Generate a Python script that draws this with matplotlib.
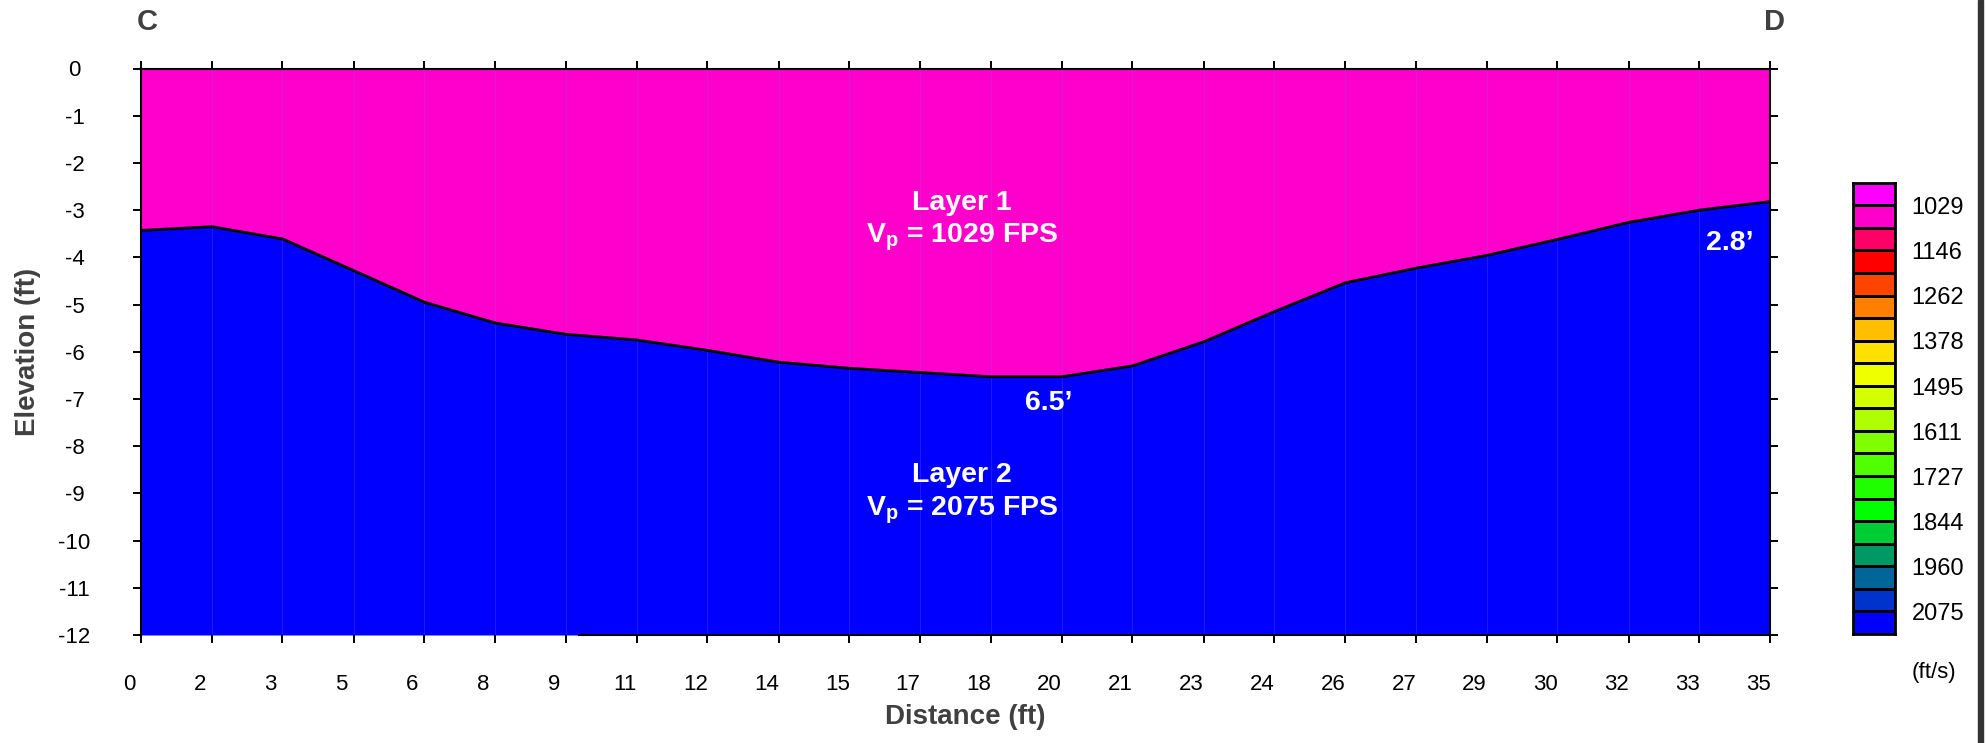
import numpy as np
import matplotlib
matplotlib.use('Agg')
import matplotlib.pyplot as plt
from matplotlib.colors import ListedColormap, BoundaryNorm
from matplotlib.transforms import ScaledTranslation
from matplotlib.patches import Rectangle

plt.rcParams['font.family'] = ['Liberation Sans', 'DejaVu Sans']
plt.rcParams['mathtext.fontset'] = 'custom'
plt.rcParams['mathtext.rm'] = 'Liberation Sans'
plt.rcParams['mathtext.bf'] = 'Liberation Sans:bold'

# geophone stations (ft) and elevation of the layer 1 / layer 2 interface (ft)
distance = [0.0, 1.52, 3.04, 4.57, 6.09, 7.61, 9.13, 10.65, 12.17, 13.70, 15.22, 16.74,
            18.26, 19.78, 21.30, 22.83, 24.35, 25.87, 27.39, 28.91, 30.43, 31.96, 33.48, 35.0]
interface = [-3.43, -3.35, -3.61, -4.28, -4.95, -5.39, -5.63, -5.75, -5.97, -6.22, -6.35, -6.44,
             -6.53, -6.53, -6.30, -5.79, -5.15, -4.54, -4.23, -3.96, -3.62, -3.26, -3.00, -2.82]
x_labels = ['0', '2', '3', '5', '6', '8', '9', '11', '12', '14', '15', '17',
            '18', '20', '21', '23', '24', '26', '27', '29', '30', '32', '33', '35']
y_ticks = [0, -1, -2, -3, -4, -5, -6, -7, -8, -9, -10, -11, -12]

layer_vel = [1029, 2075]
layer_names = ['Layer 1', 'Layer 2']

# velocity scale (ft/s)
cbar_colors = ['#FF00FF', '#FF00CC', '#FF0066', '#FF0000', '#FF4400', '#FF8000', '#FFBF00',
               '#FFE000', '#F0FF00', '#D4FF00', '#B0FF00', '#80FF00', '#50FF00', '#20FF00',
               '#00FF00', '#00CC33', '#009966', '#006699', '#0033CC', '#0000FF']
cbar_ticks = [1029, 1146, 1262, 1378, 1495, 1611, 1727, 1844, 1960, 2075]
cbar_labels = ['1029', '1146', '1262', '1378', '1495', '1611', '1727', '1844', '1960', '2075']

step = (cbar_ticks[-1] - cbar_ticks[0]) / 18.0
bounds = np.round(cbar_ticks[0] + step * np.arange(-1, 20), 6)
cmap = ListedColormap(cbar_colors)
norm = BoundaryNorm(bounds, cmap.N)

W, H = 1986, 743
fig = plt.figure(figsize=(W / 100, H / 100), dpi=100)
ax = fig.add_axes([141 / W, 1 - 635 / H, 1629 / W, 566.5 / H])

top_col = cmap(norm(layer_vel[0]))
bot_col = cmap(norm(layer_vel[1]))
ax.fill_between(distance, interface, 0, color=top_col, lw=0)
ax.fill_between(distance, -12, interface, color=bot_col, lw=0)
ax.vlines(distance[1:-1], -12, 0, color='#8060E0', alpha=0.25, lw=0.8)
ax.plot(distance, interface, color='k', lw=2)

ax.set_xlim(0, 35)
ax.set_ylim(-12, 0)
ax.set_xticks(distance)
ax.set_xticklabels(x_labels)
ax.set_yticks(y_ticks)
ax.set_yticklabels([str(v) for v in y_ticks])
ax.tick_params(direction='out', length=5.8, width=1.4, top=True, right=True,
               labelsize=16, colors='k')
ax.tick_params(axis='x', pad=22)
ax.tick_params(axis='y', pad=42)
for lab in ax.get_yticklabels():
    lab.set_ha('center')
off = ScaledTranslation(-0.12, 0, fig.dpi_scale_trans)
for lab in ax.get_xticklabels():
    lab.set_transform(lab.get_transform() + off)
for s in ax.spines.values():
    s.set_linewidth(1.5)
ax.spines['bottom'].set_bounds(9.4, 35)

# annotations
txt = dict(color='white', fontsize=20.5, fontweight='bold', ha='center', va='baseline')
ax.text(17.64, -3.00, layer_names[0], **txt)
ax.text(17.64, -3.69, r'V$_{\mathbf{p}}$ = %d FPS' % layer_vel[0], **txt)
ax.text(17.64, -8.75, layer_names[1], **txt)
ax.text(17.64, -9.46, r'V$_{\mathbf{p}}$ = %d FPS' % layer_vel[1], **txt)
ax.text(19.51, -7.24, '%.1f\u2019' % -min(interface), **txt)
ax.text(34.14, -3.85, '%.1f\u2019' % -interface[-1], **txt)

fig.text(147 / W, 1 - 22 / H, 'C', fontsize=21, fontweight='bold', color='#404040',
         ha='center', va='center')
fig.text(1775 / W, 1 - 22 / H, 'D', fontsize=21, fontweight='bold', color='#404040',
         ha='center', va='center')
fig.text(965 / W, 1 - 717 / H, 'Distance (ft)', fontsize=20, fontweight='bold',
         color='#404040', ha='center', va='center')
fig.text(28 / W, 1 - 351.75 / H, 'Elevation (ft)', fontsize=20, fontweight='bold',
         color='#404040', ha='center', va='center', rotation=90)

# colour scale, drawn as a single column of boxes
cax = fig.add_axes([1852.7 / W, 1 - 634 / H, 42.3 / W, 451.3 / H])
centers = (bounds[:-1] + bounds[1:]) / 2
cax.pcolormesh([0, 1], bounds, centers.reshape(-1, 1), cmap=cmap, norm=norm,
               edgecolors='k', linewidth=2)
cax.set_xlim(0, 1)
cax.set_ylim(bounds[-1], bounds[0])
cax.set_xticks([])
cax.yaxis.tick_right()
cax.set_yticks(cbar_ticks)
cax.set_yticklabels(cbar_labels)
cax.tick_params(length=0, pad=12, labelsize=17)
for s in cax.spines.values():
    s.set_linewidth(2)
fig.text(1934 / W, 1 - 672.5 / H, '(ft/s)', fontsize=16, ha='center', va='center')

fig.patches.append(Rectangle((1978 / W, 0), 5 / W, 1, transform=fig.transFigure,
                             color='#333333', zorder=5))

fig.savefig('out.png', dpi=100)
